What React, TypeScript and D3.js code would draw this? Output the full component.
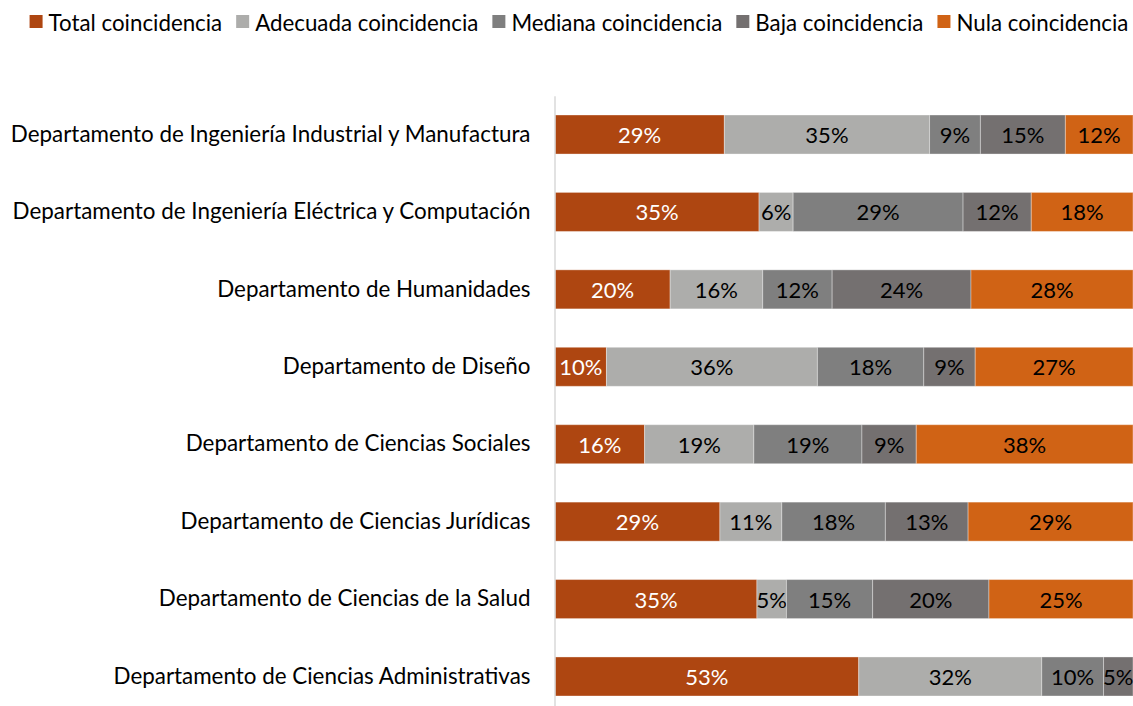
import React, { useEffect, useRef } from 'react';
import * as d3 from 'd3';

const categories = [
  'Departamento de Ingeniería Industrial y Manufactura',
  'Departamento de Ingeniería Eléctrica y Computación',
  'Departamento de Humanidades',
  'Departamento de Diseño',
  'Departamento de Ciencias Sociales',
  'Departamento de Ciencias Jurídicas',
  'Departamento de Ciencias de la Salud',
  'Departamento de Ciencias Administrativas',
];

const seriesNames = ['Total coincidencia', 'Adecuada coincidencia', 'Mediana coincidencia', 'Baja coincidencia', 'Nula coincidencia'];
const colors = ['#ae4611', '#adadab', '#7f7f7f', '#747070', '#d06315'];
const labelColors = ['#ffffff', '#000000', '#000000', '#000000', '#000000'];

// values (percent)
const total = [29.3, 35.3, 19.9, 8.9, 15.5, 28.5, 34.9, 52.6];
const adecuada = [35.5, 5.9, 16.0, 36.5, 18.9, 10.7, 5.1, 31.7];
const mediana = [8.8, 29.4, 12.0, 18.4, 18.7, 17.9, 14.9, 10.7];
const baja = [14.7, 11.8, 24.0, 8.9, 9.4, 14.3, 20.1, 5.1];
const nula = [11.7, 17.6, 28.0, 27.3, 37.5, 28.5, 24.9, 0];

// data labels as printed on the chart
const totalLabels = ['29%', '35%', '20%', '10%', '16%', '29%', '35%', '53%'];
const adecuadaLabels = ['35%', '6%', '16%', '36%', '19%', '11%', '5%', '32%'];
const medianaLabels = ['9%', '29%', '12%', '18%', '19%', '18%', '15%', '10%'];
const bajaLabels = ['15%', '12%', '24%', '9%', '9%', '13%', '20%', '5%'];
const nulaLabels = ['12%', '18%', '28%', '27%', '38%', '29%', '25%', ''];

const FONT = 'Lato, "Open Sans", sans-serif';

export default function App() {
  const svgRef = useRef<SVGSVGElement>(null);

  useEffect(() => {
    document.body.style.margin = '0';
    const width = 1133;
    const height = 706;
    const left = 555;
    const right = 1133;

    const svg = d3.select(svgRef.current);
    svg.selectAll('*').remove();
    svg.attr('width', width).attr('height', height);

    const valueSets = [total, adecuada, mediana, baja, nula];
    const labelSets = [totalLabels, adecuadaLabels, medianaLabels, bajaLabels, nulaLabels];

    const rows = categories.map((c, i) => {
      const row: any = { category: c };
      seriesNames.forEach((s, j) => { row[s] = valueSets[j][i]; });
      return row;
    });

    const stacked = d3.stack().keys(seriesNames).offset(d3.stackOffsetExpand)(rows);

    const x = d3.scaleLinear().domain([0, 1]).range([left, right]);
    const y = d3.scaleBand().domain(categories).range([95.8, 715.2]).paddingInner(0.496).paddingOuter(0.248);

    // bars
    stacked.forEach((layer, j) => {
      const g = svg.append('g');
      g.selectAll('rect')
        .data(layer)
        .join('rect')
        .attr('x', d => x(d[0]))
        .attr('y', (d, i) => y(categories[i])!)
        .attr('width', d => Math.max(0, x(d[1]) - x(d[0])))
        .attr('height', y.bandwidth())
        .attr('fill', colors[j])
        .attr('stroke', '#ffffff')
        .attr('stroke-opacity', 0.35)
        .attr('stroke-width', 1);

      g.selectAll('text')
        .data(layer)
        .join('text')
        .attr('x', d => (x(d[0]) + x(d[1])) / 2)
        .attr('y', (d, i) => y(categories[i])! + y.bandwidth() / 2)
        .attr('text-anchor', 'middle')
        .attr('dominant-baseline', 'central')
        .attr('font-family', FONT)
        .attr('font-size', 22)
        .attr('fill', labelColors[j])
        .text((d, i) => labelSets[j][i]);
    });

    // category axis
    const axis = svg.append('g')
      .attr('transform', `translate(${left - 0.5},0)`)
      .call(d3.axisLeft(y).tickSize(0).tickPadding(24));
    axis.select('.domain').attr('stroke', '#d9d9d9').attr('stroke-width', 1.5);
    axis.selectAll('text')
      .attr('font-family', FONT)
      .attr('font-size', 22.4)
      .attr('fill', '#000000');

    // legend
    const legend = svg.append('g');
    let cx = 0;
    seriesNames.forEach((s, j) => {
      const item = legend.append('g').attr('transform', `translate(${cx},0)`);
      item.append('rect')
        .attr('x', 0).attr('y', 15)
        .attr('width', 13).attr('height', 13)
        .attr('fill', colors[j]);
      const t = item.append('text')
        .attr('x', 19).attr('y', 22)
        .attr('dominant-baseline', 'central')
        .attr('font-family', FONT)
        .attr('font-size', 22.3)
        .attr('fill', '#000000')
        .text(s);
      const w = (t.node() as SVGTextElement).getComputedTextLength();
      cx += 19 + w + 14;
    });
    const legendWidth = cx - 14;
    legend.attr('transform', `translate(${579 - legendWidth / 2},0)`);
  }, []);

  return <svg ref={svgRef} style={{ display: 'block' }}></svg>;
}
